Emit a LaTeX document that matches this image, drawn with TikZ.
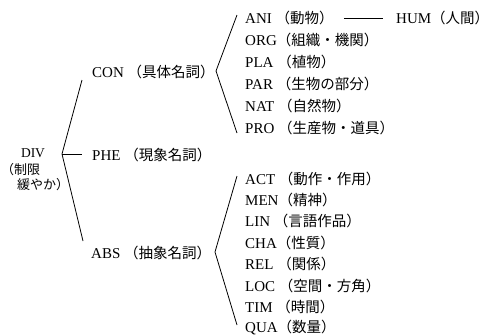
\documentclass[tikz,border=0pt]{standalone}
\usepackage{fontspec}
\setmainfont{Liberation Serif}
\newfontfamily\jp{Noto Sans CJK JP}
\newcommand{\J}[1]{{\jp\fontsize{14.5}{16}\selectfont #1}}
\usetikzlibrary{calc}
\begin{document}
\begin{tikzpicture}[x=1pt,y=-1pt,
  lbl/.style={anchor=west,inner sep=0pt,font=\fontsize{15}{17}\selectfont},
  ln/.style={line width=0.8pt,black}]
\useasboundingbox (0,0) rectangle (491,335);
% root
\node[inner sep=0pt,font=\fontsize{13.5}{15}\selectfont] (div) at (33,153) {DIV};
\node[inner sep=0pt,anchor=west] (div2) at (1,170) {{\jp\fontsize{13}{14}\selectfont （制限}};
\node[inner sep=0pt,anchor=west] (div3) at (17,185) {{\jp\fontsize{13}{14}\selectfont 緩やか）}};
% level 1
\node[lbl] (con) at (92,72) {CON \J{（具体名詞）}};
\node[lbl] (phe) at (92,155) {PHE \J{（現象名詞）}};
\node[lbl] (abs) at (91,253) {ABS \J{（抽象名詞）}};
% concrete children
\node[lbl] (ani) at (245,18) {ANI \J{（動物）}};
\node[lbl] (org) at (245,40) {ORG\J{（組織・機関）}};
\node[lbl] (pla) at (245,62) {PLA \J{（植物）}};
\node[lbl] (par) at (245,84) {PAR \J{（生物の部分）}};
\node[lbl] (nat) at (245,106) {NAT \J{（自然物）}};
\node[lbl] (pro) at (245,128) {PRO \J{（生産物・道具）}};
\node[lbl] (hum) at (396,18) {HUM\J{（人間）}};
% abstract children
\node[lbl] (act) at (245,179) {ACT \J{（動作・作用）}};
\node[lbl] (men) at (245,200) {MEN\J{（精神）}};
\node[lbl] (lin) at (245,221) {LIN \J{（言語作品）}};
\node[lbl] (cha) at (245,243) {CHA\J{（性質）}};
\node[lbl] (rel) at (245,264) {REL \J{（関係）}};
\node[lbl] (loc) at (245,286) {LOC \J{（空間・方角）}};
\node[lbl] (tim) at (245,307) {TIM \J{（時間）}};
\node[lbl] (qua) at (245,328) {QUA\J{（数量）}};
% connectors
\coordinate (dv) at (62,154);
\draw[ln] ($(con.west)+(-10,8)$) -- (dv) -- ($(abs.west)+(-8,-12)$);
\draw[ln] (dv) -- ($(phe.west)+(-10,-1)$);
\coordinate (cv) at (216,71);
\draw[ln] ($(ani.west)+(-8,-3)$) -- (cv) -- ($(pro.west)+(-8,5)$);
\coordinate (av) at (215,252);
\draw[ln] ($(act.west)+(-8,-3)$) -- (av) -- ($(qua.west)+(-8,-3)$);
\draw[line width=0.6pt] ($(ani.east)+(10,0)$) -- ($(hum.west)+(-13,0)$);
\end{tikzpicture}
\end{document}
